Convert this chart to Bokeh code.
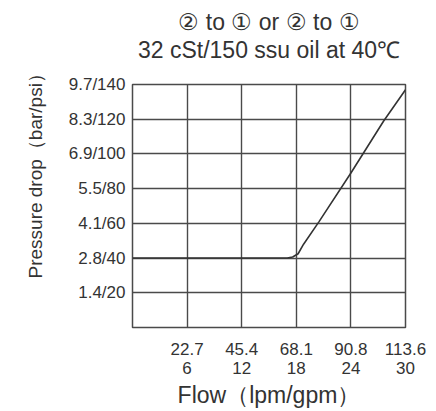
from bokeh.plotting import figure
from bokeh.models import FixedTicker, Title, Range1d
from bokeh.embed import file_html
from bokeh.resources import INLINE

# ---- data ----
flow_gpm = [0, 17.0, 17.6, 18.2, 18.8, 20.5, 24, 27.6, 30]
pressure_psi = [40, 40, 40.6, 42.5, 48, 61, 89, 119, 137]

x_ticks = [6, 12, 18, 24, 30]
x_tick_labels = ["22.7\n6", "45.4\n12", "68.1\n18", "90.8\n24", "113.6\n30"]
y_ticks = [20, 40, 60, 80, 100, 120, 140]
y_tick_labels = ["1.4/20", "2.8/40", "4.1/60", "5.5/80", "6.9/100", "8.3/120", "9.7/140"]

title_line1 = "② to ① or ② to ①"
title_line2 = "32 cSt/150 ssu oil at 40℃"
x_label = "Flow（lpm/gpm）"
y_label = "Pressure drop（bar/psi）"

FONT = "Liberation Sans"
TXT = "#333333"
GRID = "#4a4a4a"

p = figure(width=436, height=411, output_backend="svg", toolbar_location=None,
           x_range=Range1d(0, 30), y_range=Range1d(0, 140),
           min_border_left=132, min_border_right=31, min_border_top=84, min_border_bottom=82)
p.background_fill_color = "white"
p.border_fill_color = "white"
p.outline_line_color = GRID
p.outline_line_width = 1.5

# grid
p.xgrid.ticker = FixedTicker(ticks=x_ticks[:-1])
p.ygrid.ticker = FixedTicker(ticks=y_ticks[:-1])
for g in (p.xgrid, p.ygrid):
    g.grid_line_color = GRID
    g.grid_line_width = 1.4
    g.grid_line_alpha = 1.0

# axes
p.xaxis.ticker = FixedTicker(ticks=x_ticks)
p.xaxis.major_label_overrides = {t: l for t, l in zip(x_ticks, x_tick_labels)}
p.yaxis.ticker = FixedTicker(ticks=y_ticks)
p.yaxis.major_label_overrides = {t: l for t, l in zip(y_ticks, y_tick_labels)}
for ax in (p.xaxis, p.yaxis):
    ax.axis_line_color = None
    ax.major_tick_line_color = None
    ax.minor_tick_line_color = None
    ax.major_tick_out = 0
    ax.major_tick_in = 0
    ax.major_label_text_font = FONT
    ax.major_label_text_color = TXT
p.xaxis.major_label_text_font_size = "17px"
p.xaxis.major_label_text_line_height = 1.05
p.yaxis.major_label_text_font_size = "17px"
p.xaxis.major_label_standoff = 12
p.yaxis.major_label_standoff = 7
p.xaxis.axis_label = x_label
p.xaxis.axis_label_text_font = FONT
p.xaxis.axis_label_text_font_size = "23px"
p.xaxis.axis_label_text_font_style = "normal"
p.xaxis.axis_label_text_color = TXT
p.xaxis.axis_label_standoff = 1

# curve
p.line(flow_gpm, pressure_psi, line_color="#333333", line_width=1.6)

# y label as a left-side title, starting above the frame bottom as in the reference
p.add_layout(Title(text=y_label, align="left", offset=49, text_font=FONT,
                   text_font_size="19px", text_font_style="normal",
                   text_line_height=1.0, text_color=TXT, standoff=40), "left")

# titles: spacer next to the frame, then line 2, then line 1
p.add_layout(Title(text=" ", text_font_size="1px", standoff=19), "above")
p.add_layout(Title(text=title_line2, align="center", text_font=FONT, text_font_size="23px",
                   text_font_style="normal", text_color=TXT, standoff=0), "above")
p.add_layout(Title(text=title_line1, align="center", text_font=FONT, text_font_size="23px",
                   text_font_style="normal", text_color=TXT, standoff=0), "above")

open("out.html", "w").write(file_html(p, INLINE))
